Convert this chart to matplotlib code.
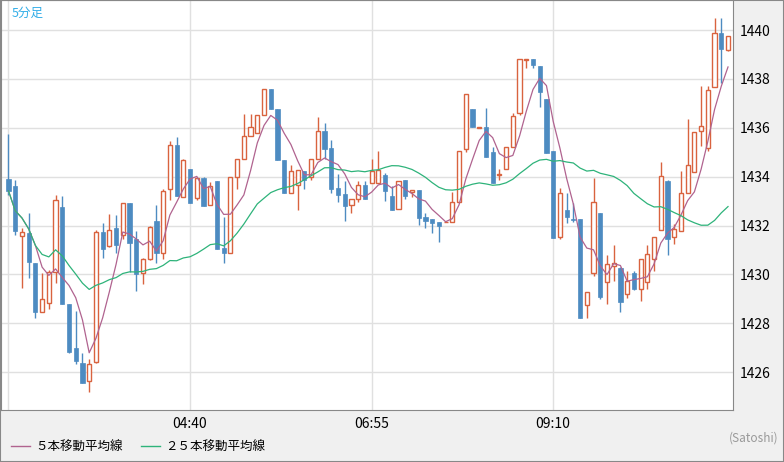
import matplotlib
matplotlib.use("Agg")
import matplotlib.pyplot as plt
import matplotlib.lines as mlines
import numpy as np
import pandas as pd

plt.rcParams["font.family"] = ["Noto Sans CJK JP", "DejaVu Sans"]

# 5-minute OHLC, first bar 02:25
opens = [1433.90, 1433.62, 1431.56, 1431.69, 1430.45, 1428.47, 1428.81, 1430.11, 1432.76, 1428.79,
         1426.98, 1426.37, 1425.62, 1426.40, 1431.72, 1431.17, 1431.90, 1431.60, 1432.92, 1431.45,
         1430.04, 1430.61, 1432.18, 1430.89, 1433.48, 1435.29, 1433.15, 1434.31, 1433.14, 1433.96,
         1432.82, 1433.82, 1431.09, 1430.86, 1433.97, 1434.71, 1435.66, 1435.77, 1436.52, 1437.57,
         1436.77, 1434.68, 1433.34, 1433.64, 1434.22, 1433.97, 1434.71, 1435.87, 1435.17, 1433.53,
         1433.29, 1432.86, 1433.07, 1433.64, 1433.75, 1433.75, 1434.07, 1433.21, 1432.66, 1433.86,
         1433.37, 1433.44, 1432.35, 1432.26, 1432.14, 1432.13, 1432.13, 1432.95, 1435.12, 1436.77,
         1436.00, 1436.03, 1435.01, 1434.07, 1434.30, 1435.21, 1436.62, 1438.78, 1438.80, 1438.53,
         1437.18, 1435.05, 1431.54, 1432.63, 1432.26, 1432.26, 1428.73, 1430.04, 1432.52, 1429.70,
         1430.35, 1430.25, 1429.18, 1430.06, 1429.39, 1429.70, 1430.65, 1431.83, 1433.82, 1431.51,
         1431.76, 1433.34, 1434.20, 1435.88, 1435.16, 1437.68, 1439.86, 1439.17]
highs = [1435.74, 1433.86, 1431.88, 1432.50, 1430.45, 1430.07, 1430.18, 1433.25, 1433.21, 1428.79,
         1428.50, 1426.77, 1426.52, 1431.81, 1432.11, 1432.48, 1432.43, 1432.91, 1432.92, 1431.77,
         1430.68, 1432.00, 1432.84, 1433.49, 1435.47, 1435.63, 1434.72, 1434.31, 1433.94, 1433.98,
         1433.80, 1433.82, 1432.35, 1433.98, 1434.71, 1436.56, 1436.56, 1436.52, 1437.57, 1437.57,
         1436.77, 1434.68, 1434.47, 1434.26, 1434.22, 1434.71, 1436.44, 1436.19, 1435.50, 1434.11,
         1433.82, 1433.07, 1433.82, 1433.82, 1434.71, 1435.05, 1434.17, 1433.62, 1433.82, 1433.86,
         1433.44, 1433.44, 1432.51, 1432.26, 1432.14, 1432.16, 1433.38, 1435.03, 1437.37, 1436.77,
         1436.03, 1436.81, 1435.23, 1434.30, 1435.21, 1436.62, 1438.80, 1438.80, 1438.80, 1438.53,
         1437.18, 1435.05, 1433.52, 1433.32, 1432.93, 1432.26, 1429.26, 1433.93, 1432.52, 1430.79,
         1431.20, 1430.31, 1430.14, 1430.14, 1430.65, 1431.20, 1431.51, 1434.60, 1433.86, 1432.06,
         1434.24, 1436.38, 1435.81, 1437.71, 1437.71, 1440.48, 1440.50, 1439.74]
lows = [1433.25, 1431.61, 1429.43, 1429.86, 1428.20, 1428.47, 1428.57, 1429.63, 1428.77, 1426.80,
        1426.32, 1425.57, 1425.20, 1426.36, 1430.68, 1431.13, 1430.86, 1431.43, 1430.11, 1429.33,
        1429.59, 1430.58, 1430.48, 1430.64, 1433.04, 1433.22, 1433.15, 1432.93, 1433.04, 1432.81,
        1432.82, 1431.05, 1430.48, 1430.86, 1433.48, 1434.71, 1435.66, 1435.77, 1436.52, 1436.75,
        1434.69, 1433.34, 1433.34, 1432.63, 1433.51, 1433.86, 1434.71, 1434.72, 1433.32, 1432.97,
        1432.20, 1432.50, 1432.97, 1433.10, 1433.75, 1433.75, 1433.01, 1432.65, 1432.66, 1433.10,
        1433.15, 1432.02, 1431.91, 1431.68, 1431.34, 1432.13, 1432.13, 1432.95, 1435.02, 1436.02,
        1436.00, 1434.82, 1433.75, 1433.85, 1434.30, 1435.21, 1436.52, 1438.46, 1438.43, 1436.86,
        1434.98, 1431.50, 1431.46, 1432.09, 1432.16, 1428.23, 1428.20, 1429.95, 1428.98, 1428.77,
        1429.73, 1428.47, 1429.02, 1429.36, 1428.92, 1429.39, 1430.15, 1431.83, 1430.79, 1431.24,
        1431.76, 1433.34, 1434.20, 1435.27, 1435.06, 1437.68, 1437.82, 1439.14]
closes = [1433.42, 1431.79, 1431.72, 1430.52, 1428.47, 1428.98, 1430.11, 1433.04, 1428.77, 1426.83,
          1426.47, 1425.57, 1426.32, 1431.72, 1431.02, 1431.81, 1431.21, 1432.91, 1431.30, 1430.01,
          1430.61, 1431.96, 1430.89, 1433.41, 1435.28, 1433.22, 1434.68, 1432.93, 1433.94, 1432.81,
          1433.62, 1431.05, 1430.86, 1433.98, 1434.71, 1435.66, 1436.03, 1436.52, 1437.57, 1436.75,
          1434.69, 1433.34, 1434.22, 1434.26, 1433.86, 1434.71, 1435.85, 1435.14, 1433.51, 1433.26,
          1432.81, 1433.07, 1433.64, 1433.10, 1434.22, 1434.28, 1433.42, 1432.65, 1433.82, 1433.22,
          1433.44, 1432.32, 1432.20, 1432.11, 1431.99, 1432.16, 1432.95, 1435.03, 1437.37, 1436.02,
          1436.03, 1434.82, 1433.75, 1434.09, 1435.21, 1436.47, 1438.80, 1438.80, 1438.57, 1437.48,
          1434.98, 1431.50, 1433.32, 1432.36, 1432.22, 1428.23, 1429.26, 1432.96, 1429.09, 1430.41,
          1430.48, 1428.88, 1429.75, 1429.41, 1430.65, 1430.82, 1431.51, 1434.02, 1431.43, 1431.84,
          1433.34, 1434.47, 1435.81, 1436.07, 1437.54, 1439.86, 1439.24, 1439.74]
tick_pos = [0, 27, 54, 81]
tick_labels = ["", "04:40", "06:55", "09:10"]
y_ticks = [1426, 1428, 1430, 1432, 1434, 1436, 1438, 1440]

UP = "#d9633f"
DOWN = "#4d8bc1"
MA5_C = "#b0638f"
MA25_C = "#2eb37a"

o = np.array(opens); h = np.array(highs); l = np.array(lows); c = np.array(closes)
x = np.arange(len(o))
up = c >= o
ma5 = pd.Series(c).rolling(5, min_periods=1).mean()
ma25 = pd.Series(c).rolling(25, min_periods=1).mean()

fig = plt.figure(figsize=(7.84, 4.62), dpi=100, facecolor="#f0f0f0")
ax = fig.add_axes([1 / 784, 1 - 410 / 462, 732 / 784, 410 / 462])
ax.set_facecolor("white")

ax.vlines(x[up], l[up], h[up], color=UP, lw=1, zorder=2)
ax.vlines(x[~up], l[~up], h[~up], color=DOWN, lw=1, zorder=2)
body = np.maximum(np.abs(c - o), 0.03)
ax.bar(x[up], body[up], bottom=np.minimum(o, c)[up], width=0.62,
       facecolor="white", edgecolor=UP, lw=1, zorder=3)
ax.bar(x[~up], body[~up], bottom=np.minimum(o, c)[~up], width=0.62,
       facecolor=DOWN, edgecolor=DOWN, lw=0.5, zorder=3)
ax.plot(x, ma5, color=MA5_C, lw=0.9, zorder=4)
ax.plot(x, ma25, color=MA25_C, lw=0.9, zorder=4)

ax.set_xlim(-1.115, 107.74)
ax.set_ylim(1424.45, 1441.23)
ax.set_xticks(tick_pos)
ax.set_xticklabels(tick_labels, fontsize=10)
ax.set_yticks(y_ticks)
ax.yaxis.tick_right()
ax.tick_params(length=0, labelsize=10, pad=5)
ax.grid(color="#e0e0e0", lw=1, zorder=0)
ax.set_axisbelow(True)
for s in ax.spines.values():
    s.set_color("#888888")

fig.text(12 / 784, 1 - 13 / 462, "5分足", color="#33aee8", fontsize=9, va="center")
fig.text(778 / 784, 1 - 438 / 462, "(Satoshi)", color="#999999", fontsize=8.5, ha="right", va="center")

h5 = mlines.Line2D([], [], color=MA5_C, lw=1)
h25 = mlines.Line2D([], [], color=MA25_C, lw=1)
fig.legend([h5, h25], ["５本移動平均線", "２５本移動平均線"], loc="center left",
           bbox_to_anchor=(0.0, 1 - 447 / 462), ncol=2, frameon=False, fontsize=9,
           handlelength=1.5, handletextpad=0.4, columnspacing=1.5)

fig.add_artist(plt.Rectangle((0, 0), 1, 1, transform=fig.transFigure, fill=False,
                             edgecolor="#888888", lw=1.5))
fig.savefig("out.png", dpi=100, facecolor=fig.get_facecolor())
